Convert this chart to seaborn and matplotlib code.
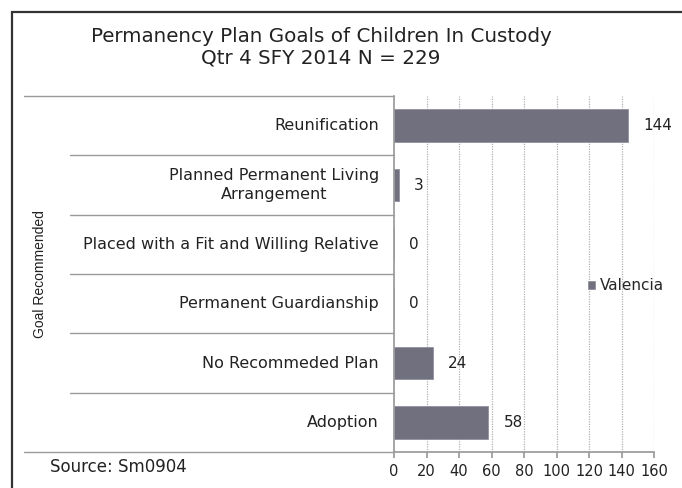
import matplotlib
matplotlib.use('Agg')
import matplotlib.pyplot as plt
import seaborn as sns
import pandas as pd
from matplotlib.patches import Rectangle

# DATA
goals = [
    "Reunification",
    "Planned Permanent Living\nArrangement",
    "Placed with a Fit and Willing Relative",
    "Permanent Guardianship",
    "No Recommeded Plan",
    "Adoption",
]
counts = [144, 3, 0, 0, 24, 58]
series_name = "Valencia"
x_ticks = [0, 20, 40, 60, 80, 100, 120, 140, 160]

BAR_COLOR = "#6e6e80"
LINE_COLOR = "#9a9a9a"
TEXT_COLOR = "#222222"

sns.set_theme(style="white")
plt.rcParams['font.family'] = ['DejaVu Sans']

df = pd.DataFrame({"goal": goals, "count": counts, "series": series_name})

W, H = 682, 488
fig = plt.figure(figsize=(W / 100, H / 100), dpi=100)
# plot area in pixel terms: x 394..654, y 96..452
ax = fig.add_axes([394 / W, 1 - 452 / H, 260 / W, 356 / H])

sns.barplot(data=df, x="count", y="goal", hue="series", palette=[BAR_COLOR],
            width=0.55, orient="h", edgecolor="#9090a0", linewidth=0.6, ax=ax)

ax.set_xlim(0, 160)
ax.set_ylim(len(goals) - 0.5, -0.5)
ax.set_xticks(x_ticks)
ax.set_xticklabels([str(t) for t in x_ticks], fontsize=10.5, color=TEXT_COLOR)
ax.set_yticks([])
ax.set_xlabel("")
ax.set_ylabel("")

# dotted vertical gridlines
for t in x_ticks[1:]:
    ax.axvline(t, color="#b0b0b0", linestyle=(0, (1, 1)), linewidth=0.9, zorder=0)

for s in ["top", "right"]:
    ax.spines[s].set_visible(False)
ax.spines["left"].set_color(LINE_COLOR)
ax.spines["bottom"].set_color(LINE_COLOR)
ax.tick_params(axis="x", bottom=True, length=4, color=LINE_COLOR, pad=5)

# data labels
for i, v in enumerate(counts):
    ax.annotate(str(v), xy=(v, i), xytext=(11, 0), textcoords="offset points",
                va="center", ha="left", fontsize=11, color=TEXT_COLOR)

# category labels and separator lines to the left of the plot
ytr = ax.get_yaxis_transform()
left_sep = (70 - 394) / 260
left_outer = (24 - 394) / 260
label_x = (379 - 394) / 260
for i, g in enumerate(goals):
    ax.text(label_x, i, g, transform=ytr, ha="right", va="center",
            fontsize=11.5, color=TEXT_COLOR, multialignment="center", linespacing=1.4)
for b in range(1, len(goals)):
    ax.plot([left_sep, 0], [b - 0.5, b - 0.5], transform=ytr, color=LINE_COLOR,
            linewidth=1, clip_on=False)
for b in [-0.5, len(goals) - 0.5]:
    ax.plot([left_outer, 0], [b, b], transform=ytr, color=LINE_COLOR,
            linewidth=1, clip_on=False)

# legend
sns.move_legend(ax, "center left", bbox_to_anchor=((574 - 394) / 260, (452 - 286) / 356),
                frameon=False, title=None, handlelength=0.5, handleheight=0.5,
                handletextpad=0.3, fontsize=11)

# titles and notes
fig.text(321 / W, 1 - 36 / H, "Permanency Plan Goals of Children In Custody",
         ha="center", va="center", fontsize=14.3, color=TEXT_COLOR)
fig.text(321 / W, 1 - 58 / H, "Qtr 4 SFY 2014 N = 229",
         ha="center", va="center", fontsize=14.3, color=TEXT_COLOR)
fig.text(40 / W, 1 - 274 / H, "Goal Recommended", rotation=90, ha="center", va="center",
         fontsize=10, family="Liberation Sans", color=TEXT_COLOR)
fig.text(50 / W, 1 - 467 / H, "Source: Sm0904", ha="left", va="center",
         fontsize=12, color=TEXT_COLOR)

# outer frame
fig.patches.append(Rectangle((12 / W, -0.1), 1.2, 1.1 - 12 / H, transform=fig.transFigure,
                             fill=False, edgecolor="#333333", linewidth=1.6))

fig.savefig("out.png", dpi=100)
